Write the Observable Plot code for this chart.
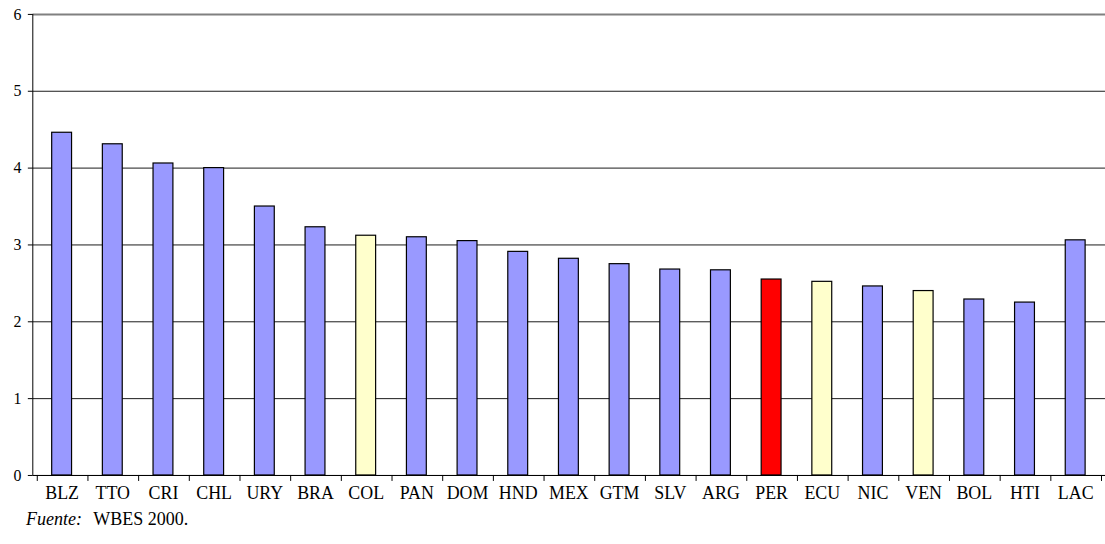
<!DOCTYPE html>
<html>
<head>
<meta charset="utf-8">
<script src="https://cdn.jsdelivr.net/npm/d3@7"></script>
<script src="https://cdn.jsdelivr.net/npm/@observablehq/plot@0.6"></script>
<style>
  html, body { margin: 0; padding: 0; background: #fff; overflow: hidden; }
  #chart svg { display: block; }
  .caption { font-family: "Liberation Serif", "Times New Roman", serif; font-size: 18px; margin: 7px 0 0 26px; color: #000; line-height: 20px; }
  .caption i { margin-right: 7px; }
</style>
</head>
<body>
<div id="chart"></div>
<div class="caption"><i>Fuente:</i> WBES 2000.</div>
<script>
const countries = ["BLZ","TTO","CRI","CHL","URY","BRA","COL","PAN","DOM","HND","MEX","GTM","SLV","ARG","PER","ECU","NIC","VEN","BOL","HTI","LAC"];
const values = [4.46,4.31,4.06,4.00,3.50,3.23,3.12,3.10,3.05,2.91,2.82,2.75,2.68,2.67,2.55,2.52,2.46,2.40,2.29,2.25,3.06];
const groups = ["base","base","base","base","base","base","ref","base","base","base","base","base","base","base","focus","ref","base","ref","base","base","base"];
const yTicks = [0,1,2,3,4,5,6];
const groupDomain = ["base","ref","focus"];
const groupColors = ["#9999FF","#FFFFCC","#FF0000"];

const data = countries.map((c, i) => ({country: c, value: values[i], group: groups[i]}));

const chart = Plot.plot({
  width: 1112,
  height: 505,
  marginLeft: 33,
  marginRight: 0,
  marginTop: 14,
  marginBottom: 27,
  style: {fontFamily: "'Liberation Serif', 'Times New Roman', serif", color: "#000", background: "#fff"},
  x: {domain: countries, paddingInner: 0.6, paddingOuter: 0.3, align: 0.5},
  y: {domain: [0, 6]},
  color: {domain: groupDomain, range: groupColors},
  marks: [
    Plot.gridY(yTicks.filter(d => d < 6), {stroke: "#000", strokeOpacity: 0.9, strokeWidth: 1}),
    Plot.gridY([6], {stroke: "#808080", strokeOpacity: 1, strokeWidth: 2}),
    Plot.barY(data, {x: "country", y: "value", fill: "group", stroke: "#000", strokeWidth: 1.2}),
    Plot.axisY({ticks: yTicks, tickFormat: "d", tickSize: 5, tickPadding: 7, label: null, fontSize: 16}),
    Plot.axisX({tickSize: 0, tickPadding: 11, label: null, fontSize: 18}),
    Plot.ruleY([0], {stroke: "#000", strokeWidth: 1})
  ]
});

// y axis line and category boundary ticks, positioned from Plot's own scales
const xs = chart.scale("x");
const ys = chart.scale("y");
const svg = d3.select(chart);
const gap = (xs.step - xs.bandwidth) / 2;
const y0 = ys.apply(0);
const g = svg.append("g").attr("stroke", "#000").attr("stroke-width", 1);
g.append("line")
  .attr("x1", xs.range[0]).attr("x2", xs.range[0])
  .attr("y1", ys.apply(6)).attr("y2", y0);
const bounds = countries.map(c => xs.apply(c) - gap).concat([xs.apply(countries[countries.length - 1]) + xs.bandwidth + gap]);
g.selectAll("line.tick").data(bounds).join("line")
  .attr("class", "tick")
  .attr("x1", d => Math.round(d) + 0.5).attr("x2", d => Math.round(d) + 0.5)
  .attr("y1", y0).attr("y2", y0 + 6);

document.getElementById("chart").append(chart);
</script>
</body>
</html>
